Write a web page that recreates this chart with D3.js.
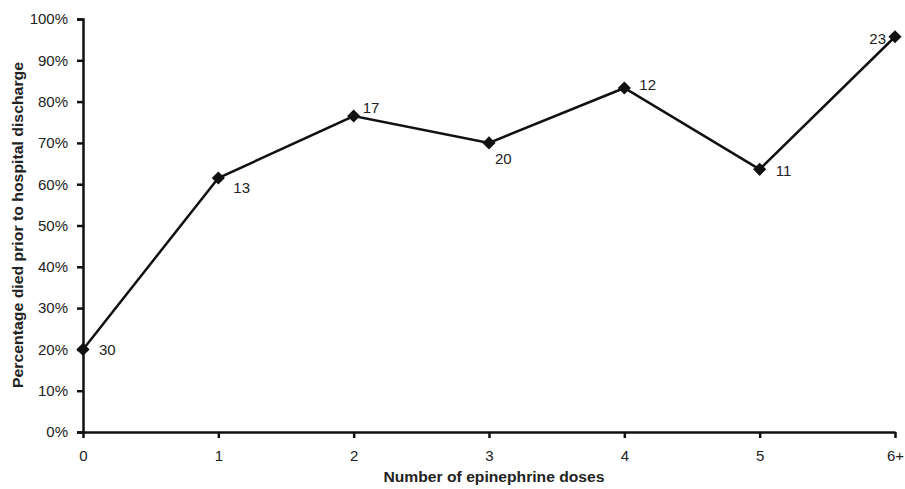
<!DOCTYPE html>
<html>
<head>
<meta charset="utf-8">
<script src="https://cdn.jsdelivr.net/npm/d3@7"></script>
<style>
  body { margin: 0; background: #fff; }
  text { font-family: "Liberation Sans", Arial, sans-serif; fill: #222; }
</style>
</head>
<body>
<svg id="chart" width="905" height="489"></svg>
<script>
// categories and values
var doses = ["0", "1", "2", "3", "4", "5", "6+"];
var pctDied = [0.20, 0.615, 0.765, 0.70, 0.833, 0.636, 0.957];
var patients = [30, 13, 17, 20, 12, 11, 23];
var yTicks = [0, 0.1, 0.2, 0.3, 0.4, 0.5, 0.6, 0.7, 0.8, 0.9, 1.0];

// where each count label sits relative to its point (anchor, dx, dy)
var labelPlace = [
  ["start", 16, 6], ["start", 15, 15], ["start", 9, -3], ["start", 6, 21],
  ["start", 15, 2], ["start", 16, 7], ["end", -9, 7]
];

var svg = d3.select("#chart");
var mLeft = 83, mRight = 895, mTop = 19, mBottom = 432;

var x = d3.scalePoint().domain(doses).range([mLeft, mRight]);
var y = d3.scaleLinear().domain([0, 1]).range([mBottom, mTop]);

// y axis
svg.append("g")
  .attr("class", "axis")
  .attr("transform", "translate(" + mLeft + ",0)")
  .call(d3.axisLeft(y).tickValues(yTicks).tickFormat(d3.format(".0%")).tickSize(6).tickPadding(9));

// x axis
svg.append("g")
  .attr("class", "axis")
  .attr("transform", "translate(0," + mBottom + ")")
  .call(d3.axisBottom(x).tickSize(6).tickPadding(12).tickSizeOuter(0));

svg.selectAll(".axis").attr("font-size", 15).attr("font-family", "Liberation Sans, Arial, sans-serif");
svg.selectAll(".domain, .tick line").attr("stroke", "#111").attr("stroke-width", 2.5);
svg.selectAll(".tick text").attr("fill", "#222");

// the line
var line = d3.line()
  .x(function(d, i) { return x(doses[i]); })
  .y(function(d) { return y(d); });

svg.append("path")
  .datum(pctDied)
  .attr("fill", "none")
  .attr("stroke", "#111")
  .attr("stroke-width", 2.5)
  .attr("d", line);

// diamond markers
svg.selectAll(".pt")
  .data(pctDied)
  .enter()
  .append("path")
  .attr("class", "pt")
  .attr("d", d3.symbol().type(d3.symbolDiamond2).size(110))
  .attr("transform", function(d, i) { return "translate(" + x(doses[i]) + "," + y(d) + ")"; })
  .attr("fill", "#111");

// patient counts
svg.selectAll(".lbl")
  .data(patients)
  .enter()
  .append("text")
  .attr("class", "lbl")
  .attr("x", function(d, i) { return x(doses[i]) + labelPlace[i][1]; })
  .attr("y", function(d, i) { return y(pctDied[i]) + labelPlace[i][2]; })
  .attr("text-anchor", function(d, i) { return labelPlace[i][0]; })
  .attr("font-size", 15)
  .text(function(d) { return d; });

// axis titles
svg.append("text")
  .attr("x", 494)
  .attr("y", 482)
  .attr("text-anchor", "middle")
  .attr("font-size", 14)
  .attr("font-weight", "bold")
  .attr("fill", "#111")
  .attr("textLength", 221)
  .attr("lengthAdjust", "spacingAndGlyphs")
  .text("Number of epinephrine doses");

svg.append("text")
  .attr("transform", "translate(23,225) rotate(-90)")
  .attr("text-anchor", "middle")
  .attr("font-size", 14)
  .attr("font-weight", "bold")
  .attr("fill", "#111")
  .attr("textLength", 326)
  .attr("lengthAdjust", "spacingAndGlyphs")
  .text("Percentage died prior to hospital discharge");
</script>
</body>
</html>
